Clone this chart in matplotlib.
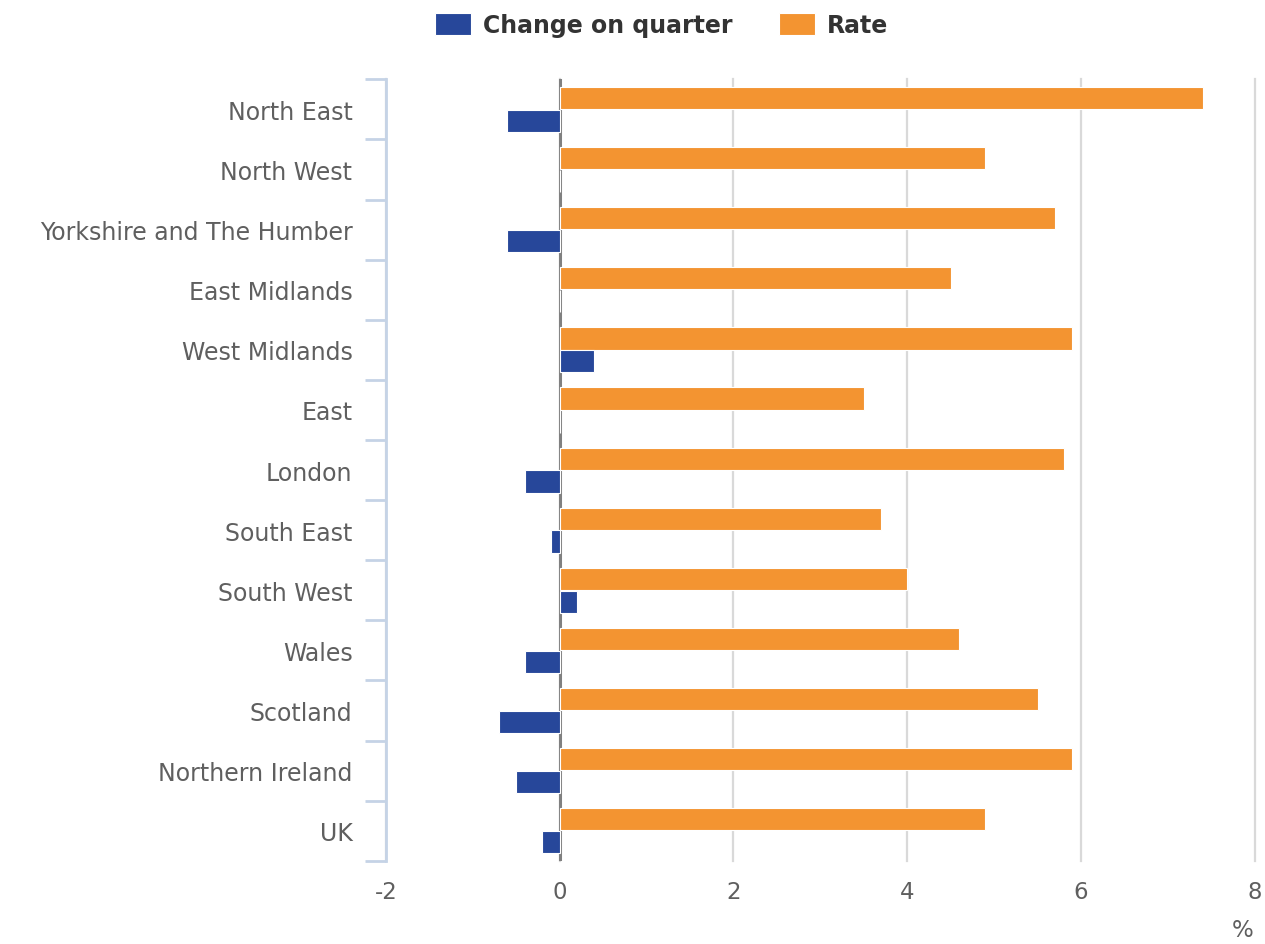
import matplotlib
matplotlib.use("Agg")
import matplotlib.pyplot as plt
import numpy as np

plt.rcParams["font.family"] = ["DejaVu Sans"]

# Regional unemployment: rate and change on quarter (%)
regions = ["North East", "North West", "Yorkshire and The Humber", "East Midlands",
           "West Midlands", "East", "London", "South East", "South West", "Wales",
           "Scotland", "Northern Ireland", "UK"]
rate = [7.4, 4.9, 5.7, 4.5, 5.9, 3.5, 5.8, 3.7, 4.0, 4.6, 5.5, 5.9, 4.9]
change = [-0.6, 0.0, -0.6, 0.0, 0.4, 0.0, -0.4, -0.1, 0.2, -0.4, -0.7, -0.5, -0.2]
x_ticks = [-2, 0, 2, 4, 6, 8]

BLUE = "#27479a"
ORANGE = "#f39431"
SPINE = "#c5d3e6"
TEXT = "#5f5f5f"

fig = plt.figure(figsize=(12.65, 9.45), dpi=100)
ax = fig.add_axes([0.305, 0.088, 0.687, 0.827])

y = np.arange(len(regions))
h = 0.37
ax.barh(y - 0.19, rate, height=h, color=ORANGE, edgecolor="white", linewidth=0.8,
        label="Rate", zorder=3)
ax.barh(y + 0.19, change, height=h, color=BLUE, edgecolor="white", linewidth=0.8,
        label="Change on quarter", zorder=3)

ax.set_ylim(len(regions) - 0.5, -0.5)
ax.set_xlim(-2, 8)

# zero line
ax.axvline(0, color="#808080", lw=2.2, zorder=2)

ax.set_xticks(x_ticks)
ax.set_xticklabels([str(t) for t in x_ticks])
ax.grid(axis="x", color="#d9d9d9", lw=1.6, zorder=0)
for gl in ax.get_xgridlines():
    gl.set_clip_on(False)
ax.tick_params(axis="x", length=0, pad=14, labelsize=16.5, labelcolor=TEXT)

ax.set_yticks(y)
ax.set_yticklabels(regions)
ax.set_yticks(np.arange(len(regions) + 1) - 0.5, minor=True)
ax.tick_params(axis="y", which="major", length=0, pad=24, labelsize=17, labelcolor=TEXT)
ax.tick_params(axis="y", which="minor", length=15, width=2, color=SPINE)

for s in ["top", "right", "bottom"]:
    ax.spines[s].set_visible(False)
ax.spines["left"].set_color(SPINE)
ax.spines["left"].set_linewidth(2)

fig.text(0.982, 0.003, "%", fontsize=16.5, color=TEXT, ha="center", va="bottom")

handles, labels = ax.get_legend_handles_labels()
fig.legend(handles[::-1], labels[::-1], loc="upper center", bbox_to_anchor=(0.523, 1.008),
           ncol=2, frameon=False, prop={"weight": "bold", "size": 17},
           labelcolor="#333333", handlelength=1.53, handleheight=1.1,
           columnspacing=2.0, handletextpad=0.5)

fig.savefig("out.png", dpi=100)
